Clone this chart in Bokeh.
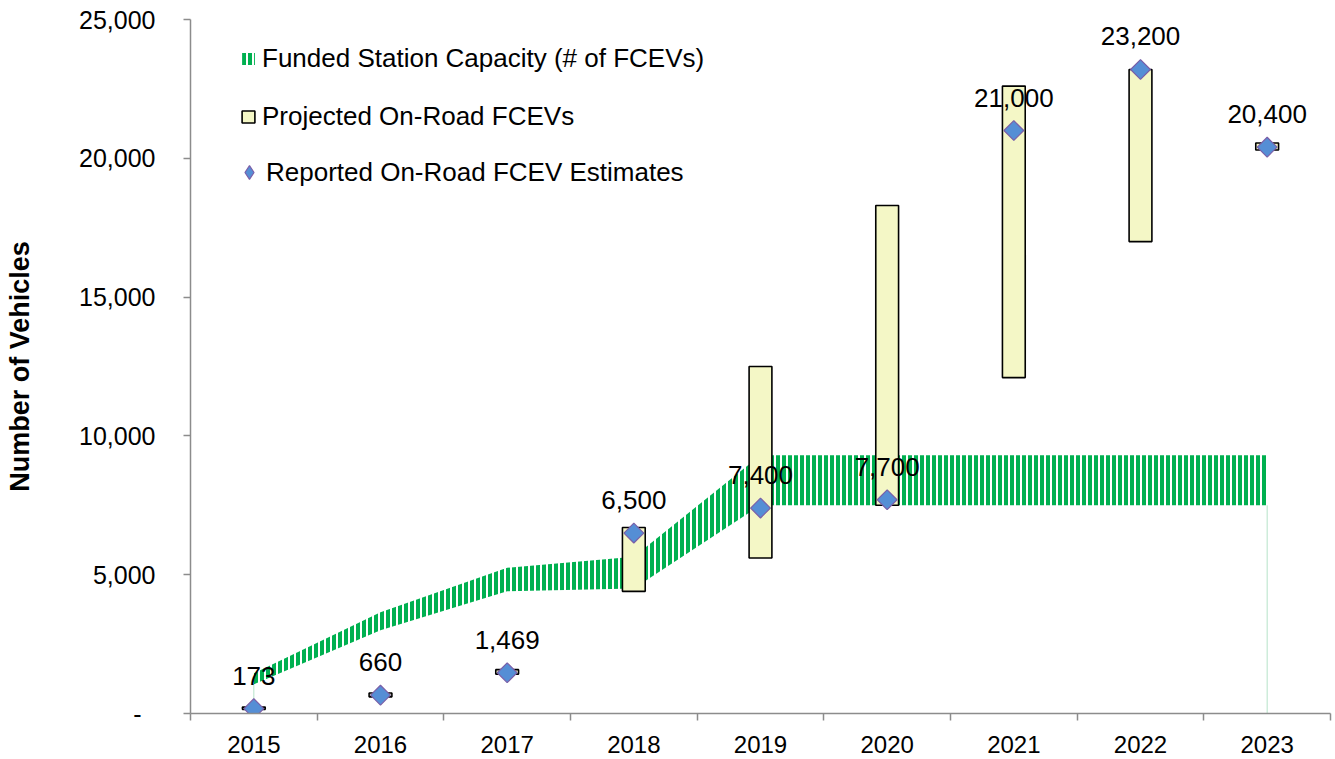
import numpy as np
from bokeh.plotting import figure
from bokeh.models import Range1d, FixedTicker, Legend, LegendItem
from bokeh.core.properties import value
from bokeh.embed import file_html
from bokeh.resources import INLINE

years = ["2015", "2016", "2017", "2018", "2019", "2020", "2021", "2022", "2023"]
cap_low = [1050, 3000, 4400, 4500, 7500, 7500, 7500, 7500, 7500]
cap_high = [1450, 3650, 5250, 5650, 9300, 9300, 9300, 9300, 9300]
proj_low = [150, 600, 1420, 4400, 5600, 7500, 12100, 17000, 20300]
proj_high = [230, 740, 1580, 6700, 12500, 18300, 22600, 23200, 20550]
reported = [173, 660, 1469, 6500, 7400, 7700, 21000, 23200, 20400]
y_ticks = [0, 5000, 10000, 15000, 20000, 25000]
y_tick_labels = ["-\u00a0\u00a0", "5,000", "10,000", "15,000", "20,000", "25,000"]

FONT = "Liberation Sans"
AXIS_COLOR = "#8C8C8C"
DOT_FILL = "#558ED5"
DOT_LINE = "#7A5FA8"

xpos = [i + 0.5 for i in range(len(years))]
bounds = list(range(len(years) + 1))
labels = [f"{v:,}" for v in reported]

p = figure(width=1335, height=759, x_range=Range1d(0, len(years)),
           y_range=Range1d(0, 25000), output_backend="svg", toolbar_location=None,
           min_border_left=190, min_border_top=19, min_border_right=5,
           min_border_bottom=46)
p.outline_line_color = None
p.grid.visible = False
p.background_fill_color = "white"

# funded station capacity band
band = p.varea(x=xpos, y1=cap_low, y2=cap_high, fill_color=None,
               hatch_pattern="vertical_line", hatch_color="#00B050",
               hatch_scale=6, hatch_weight=4)
p.segment(x0=[xpos[0], xpos[-1]], y0=[0, 0], x1=[xpos[0], xpos[-1]],
          y1=[cap_low[0], cap_low[-1]], line_color="#B5E3C8", line_width=1)

# projected on-road boxes
boxes = p.vbar(x=xpos, width=0.18, bottom=proj_low, top=proj_high,
               fill_color="#F4F7C6", line_color="black", line_width=1.6)

# reported estimates
dots = p.scatter(x=xpos, y=reported, marker="square", angle=np.pi / 4, size=14,
                 fill_color=DOT_FILL, line_color=DOT_LINE, line_width=1.2)
# hidden legend proxy (diamond symbol shown only in the legend)
dots_key = p.scatter(x=xpos[:1], y=reported[:1], marker="diamond", size=14,
                     fill_color=DOT_FILL, line_color=DOT_LINE, line_width=1.2)
dots_key.visible = False

p.text(x=xpos, y=reported, text=labels, text_align="center",
       text_baseline="alphabetic", y_offset=-33,
       text_font=value(FONT), text_font_size="26px", text_color="black")

# axes
xa = p.xaxis[0]
xa.ticker = FixedTicker(ticks=xpos, minor_ticks=bounds)
xa.major_label_overrides = {x: y for x, y in zip(xpos, years)}
xa.major_tick_line_color = None
xa.major_tick_out = 0
xa.major_tick_in = 0
xa.minor_tick_out = 7
xa.minor_tick_in = 0
xa.minor_tick_line_color = AXIS_COLOR
xa.minor_tick_line_width = 1.5
xa.axis_line_color = AXIS_COLOR
xa.axis_line_width = 1.5
xa.major_label_standoff = 15
xa.major_label_text_font = FONT
xa.major_label_text_font_size = "24px"
xa.major_label_text_color = "black"

ya = p.yaxis[0]
ya.ticker = FixedTicker(ticks=y_ticks)
ya.major_label_overrides = dict(zip(y_ticks, y_tick_labels))
ya.minor_tick_line_color = None
ya.major_tick_out = 7
ya.major_tick_in = 0
ya.major_tick_line_color = AXIS_COLOR
ya.major_tick_line_width = 1.5
ya.axis_line_color = AXIS_COLOR
ya.axis_line_width = 1.5
ya.major_label_standoff = 28
ya.major_label_text_font = FONT
ya.major_label_text_font_size = "25px"
ya.major_label_text_color = "black"
ya.axis_label = "Number of Vehicles"
ya.axis_label_text_font = FONT
ya.axis_label_text_font_style = "bold"
ya.axis_label_text_font_size = "27px"
ya.axis_label_text_color = "black"
ya.axis_label_standoff = 41

legend_a = Legend(items=[
    LegendItem(label="Funded Station Capacity (# of FCEVs)", renderers=[band]),
    LegendItem(label="Projected On-Road FCEVs", renderers=[boxes]),
], location=(50, 581), border_line_color=None, background_fill_alpha=0,
    label_text_font=FONT, label_text_font_size="26px", label_text_color="black",
    glyph_width=16, glyph_height=15, spacing=27, padding=0, margin=0,
    label_standoff=6)
p.add_layout(legend_a)

legend_b = Legend(items=[
    LegendItem(label="Reported On-Road FCEV Estimates", renderers=[dots_key]),
], location=(42, 521), border_line_color=None, background_fill_alpha=0,
    label_text_font=FONT, label_text_font_size="26px", label_text_color="black",
    glyph_width=34, glyph_height=40, spacing=0, padding=0, margin=0,
    label_standoff=0)
p.add_layout(legend_b)

open("out.html", "w").write(file_html(p, INLINE))
